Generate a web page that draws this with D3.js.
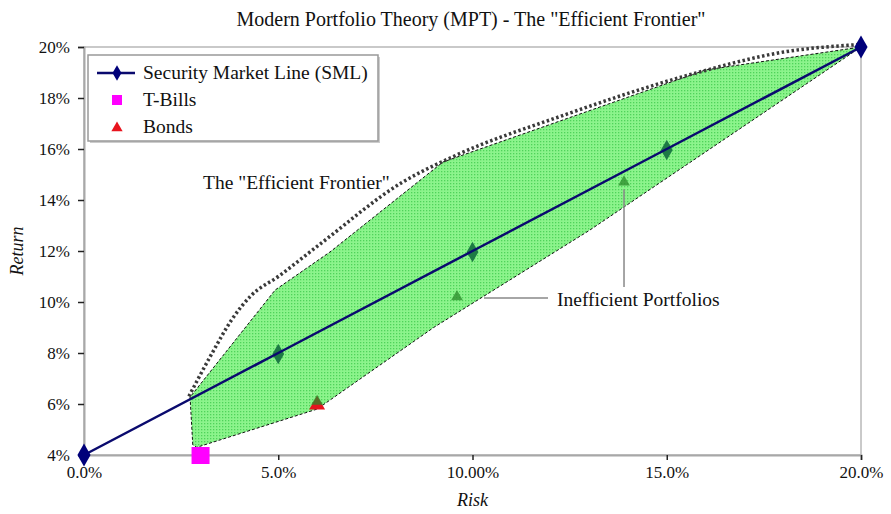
<!DOCTYPE html>
<html>
<head>
<meta charset="utf-8">
<script src="https://cdn.jsdelivr.net/npm/d3@7"></script>
<style>
body { margin: 0; background: #fff; }
</style>
</head>
<body>
<svg id="chart" width="891" height="514"></svg>
<script>
// data (risk %, return %)
var smlPoints = [[0, 4], [5, 8], [10, 12], [15, 16], [20, 20]];
var tBills = [[3, 4]];
var bonds = [[6, 6]];
var portfolioTriangles = [[6, 6.1], [9.6, 10.2], [13.9, 14.7]];
var frontier = [[2.7, 6.3], [3.3, 8.0], [3.8, 9.3], [4.3, 10.25], [5.0, 11.0], [6.1, 12.3], [8.2, 14.7], [9.5, 15.7], [12.3, 17.3], [15.8, 19.0], [18, 19.8], [20, 20.1]];
var regionUpper = [[2.8, 4.4], [2.73, 6.27], [4.92, 10.47], [6.33, 11.96], [9.24, 15.49], [16.0, 19.1], [20, 20]];
var regionLower = [[13, 12.8], [9.0, 9.0], [6.0, 5.8], [2.9, 4.3]];
var xTicks = [0, 5, 10, 15, 20];
var xTickLabels = ["0.0%", "5.0%", "10.00%", "15.0%", "20.0%"];
var yTicks = [4, 6, 8, 10, 12, 14, 16, 18, 20];

var FONT = 'Liberation Serif, Times New Roman, Times, Tinos, DejaVu Serif, Noto Serif, serif';
var svg = d3.select('#chart');
var x = d3.scaleLinear().domain([0, 20]).range([84, 861]);
var y = d3.scaleLinear().domain([4, 20]).range([455, 47]);

// green dotted pattern
var defs = svg.append('defs');
var pat = defs.append('pattern').attr('id', 'dots').attr('width', 3).attr('height', 3).attr('patternUnits', 'userSpaceOnUse');
pat.append('rect').attr('width', 3).attr('height', 3).attr('fill', '#8cf48c');
pat.append('rect').attr('width', 1.3).attr('height', 1.3).attr('fill', '#4fd35a');

// title
svg.append('text').attr('x', 471).attr('y', 26).attr('text-anchor', 'middle').style('font-size', '20px')
    .text('Modern Portfolio Theory (MPT) - The "Efficient Frontier"');

// frame
svg.append('rect').attr('x', x(0)).attr('y', y(20)).attr('width', x(20) - x(0)).attr('height', y(4) - y(20))
    .attr('fill', 'none').attr('stroke', '#b8b8b8').attr('stroke-width', 1.5);

var line = d3.line().x(function(d) { return x(d[0]); }).y(function(d) { return y(d[1]); });

// feasible region
svg.append('path').attr('d', line(regionUpper.concat(regionLower)) + 'Z')
    .attr('fill', 'url(#dots)').attr('stroke', '#111').attr('stroke-width', 1).attr('stroke-dasharray', '3,2');

// efficient frontier
svg.append('path').attr('d', line.curve(d3.curveMonotoneX)(frontier)).attr('fill', 'none')
    .attr('stroke', '#3a3a3a').attr('stroke-width', 3.5).attr('stroke-dasharray', '2.5,2.5');
line.curve(d3.curveLinear);

// axes
var xAxis = svg.append('g').attr('transform', 'translate(0,' + y(4) + ')')
    .call(d3.axisBottom(x).tickValues(xTicks).tickSize(5).tickPadding(6).tickFormat(function(d, i) { return xTickLabels[i]; }));
var yAxis = svg.append('g').attr('transform', 'translate(' + x(0) + ',0)')
    .call(d3.axisLeft(y).tickValues(yTicks).tickSize(6).tickPadding(8).tickFormat(function(d) { return d + '%'; }));
[xAxis, yAxis].forEach(function(g) {
    g.attr('font-family', null);
    g.select('.domain').attr('stroke', '#a8a8a8').attr('stroke-width', 2);
    g.selectAll('.tick line').attr('stroke', '#222').attr('stroke-width', 1.5);
    g.selectAll('.tick text').style('font-size', '17px');
});

svg.append('text').attr('x', x(10)).attr('y', 506).attr('text-anchor', 'middle')
    .style('font-size', '18px').style('font-style', 'italic').text('Risk');
svg.append('text').attr('transform', 'translate(23,' + y(12) + ') rotate(-90)').attr('text-anchor', 'middle')
    .style('font-size', '18px').style('font-style', 'italic').text('Return');

// symbols
var diamond = d3.symbol().type(d3.symbolDiamond).size(120);
var tri = d3.symbol().type(d3.symbolTriangle);

// green portfolio markers behind SML
svg.selectAll('.gdia').data(smlPoints.slice(1, 4)).enter().append('path')
    .attr('transform', function(d) { return 'translate(' + x(d[0]) + ',' + (y(d[1]) + 1) + ')'; })
    .attr('d', diamond).attr('fill', '#1d7a45');

// SML
svg.append('path').attr('d', line(smlPoints)).attr('fill', 'none').attr('stroke', '#0a0a6e').attr('stroke-width', 2.5);
svg.selectAll('.sml').data([smlPoints[0], smlPoints[4]]).enter().append('path')
    .attr('transform', function(d) { return 'translate(' + x(d[0]) + ',' + y(d[1]) + ')'; })
    .attr('d', diamond.size(150)).attr('fill', '#00007a');

// T-Bills
svg.selectAll('.tb').data(tBills).enter().append('rect')
    .attr('x', function(d) { return x(d[0]) - 9; }).attr('y', function(d) { return y(d[1]) - 8; })
    .attr('width', 18).attr('height', 17).attr('fill', '#ff00ff');

// Bonds
svg.selectAll('.bd').data(bonds).enter().append('path')
    .attr('transform', function(d) { return 'translate(' + x(d[0]) + ',' + (y(d[1]) + 1) + ')'; })
    .attr('d', tri.size(110)).attr('fill', '#e8141e');

svg.selectAll('.pt').data(portfolioTriangles).enter().append('path')
    .attr('transform', function(d) { return 'translate(' + x(d[0]) + ',' + y(d[1]) + ')'; })
    .attr('d', tri.size(60)).attr('fill', '#2a8a2a').attr('fill-opacity', 0.75);

// annotations
svg.append('text').attr('x', 203).attr('y', 189).style('font-size', '19.5px').text('The "Efficient Frontier"');
svg.append('text').attr('x', 557).attr('y', 306).style('font-size', '19.5px').text('Inefficient Portfolios');
svg.append('line').attr('x1', 484).attr('x2', 548).attr('y1', 298).attr('y2', 298).attr('stroke', '#888').attr('stroke-width', 1.5);
svg.append('line').attr('x1', x(13.9)).attr('x2', x(13.9)).attr('y1', y(14.7) + 7).attr('y2', 287).attr('stroke', '#888').attr('stroke-width', 1.5);

// legend
var leg = svg.append('g').attr('transform', 'translate(88,55)');
leg.append('rect').attr('x', 2).attr('y', 2).attr('width', 290).attr('height', 86).attr('fill', '#ccc');
leg.append('rect').attr('width', 290).attr('height', 86).attr('fill', '#fff').attr('stroke', '#999').attr('stroke-width', 1.5);
leg.append('line').attr('x1', 9).attr('x2', 47).attr('y1', 18).attr('y2', 18).attr('stroke', '#0a0a6e').attr('stroke-width', 2.5);
leg.append('path').attr('transform', 'translate(29,18)').attr('d', d3.symbol().type(d3.symbolDiamond).size(70)).attr('fill', '#00007a');
leg.append('rect').attr('x', 24).attr('y', 40).attr('width', 10).attr('height', 10).attr('fill', '#ff00ff');
leg.append('path').attr('transform', 'translate(29,73)').attr('d', d3.symbol().type(d3.symbolTriangle).size(55)).attr('fill', '#e8141e');
var legLabels = ['Security Market Line (SML)', 'T-Bills', 'Bonds'];
leg.selectAll('.lt').data(legLabels).enter().append('text')
    .attr('x', 55).attr('y', function(d, i) { return 24 + i * 27; }).style('font-size', '19.5px').text(function(d) { return d; });

svg.selectAll('text').attr('font-family', FONT).style('font-family', FONT).attr('fill', '#111');
</script>
</body>
</html>
